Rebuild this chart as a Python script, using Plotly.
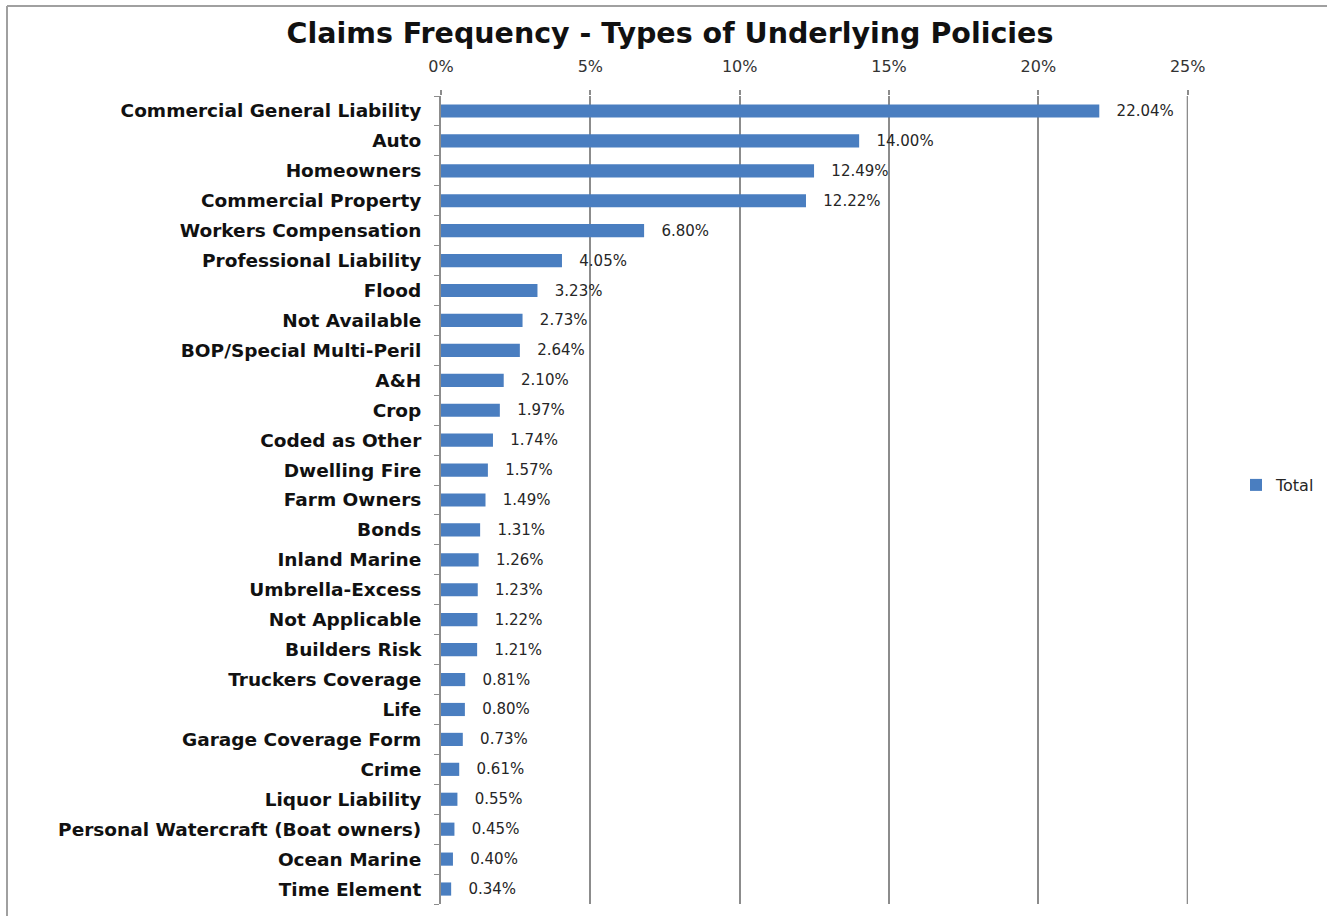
import plotly.graph_objects as go

categories = [
    "Commercial General Liability", "Auto", "Homeowners", "Commercial Property",
    "Workers Compensation", "Professional Liability", "Flood", "Not Available",
    "BOP/Special Multi-Peril", "A&H", "Crop", "Coded as Other", "Dwelling Fire",
    "Farm Owners", "Bonds", "Inland Marine", "Umbrella-Excess", "Not Applicable",
    "Builders Risk", "Truckers Coverage", "Life", "Garage Coverage Form", "Crime",
    "Liquor Liability", "Personal Watercraft (Boat owners)", "Ocean Marine",
    "Time Element",
]
values = [
    22.04, 14.00, 12.49, 12.22, 6.80, 4.05, 3.23, 2.73, 2.64, 2.10, 1.97, 1.74,
    1.57, 1.49, 1.31, 1.26, 1.23, 1.22, 1.21, 0.81, 0.80, 0.73, 0.61, 0.55,
    0.45, 0.40, 0.34,
]
x_ticks = [0, 5, 10, 15, 20, 25]
x_tick_labels = ["0%", "5%", "10%", "15%", "20%", "25%"]

BAR_BLUE = "#4A7EC0"
GRID_GRAY = "#8C8C8C"

fig = go.Figure(
    go.Bar(
        y=categories,
        x=values,
        orientation="h",
        name="Total",
        marker=dict(color=BAR_BLUE, line=dict(width=0)),
        width=0.44,
        text=[f"{v:.2f}%" for v in values],
        textposition="outside",
        constraintext="none",
        cliponaxis=False,
        textfont=dict(family="DejaVu Sans", size=15, color="#262626"),
        hoverinfo="skip",
    )
)

W, H = 1330, 916
L, R, T, B = 441, 142, 96, 12
plot_w = W - L - R
plot_h = H - T - B

def px_x(p):
    return (p - L) / plot_w

def px_y(p):
    return (H - B - p) / plot_h

# value labels sit a little past the bar ends
fig.update_traces(texttemplate="   %{x:.2f}%")

fig.update_layout(
    width=W,
    height=H,
    margin=dict(l=L, r=R, t=T, b=B, autoexpand=False),
    paper_bgcolor="white",
    plot_bgcolor="white",
    title=dict(
        text="<b>Claims Frequency - Types of Underlying Policies</b>",
        x=670 / W, xanchor="center", xref="container",
        y=1 - 33 / H, yanchor="middle", yref="container",
        font=dict(family="DejaVu Sans", size=28.5, color="#111111"),
    ),
    showlegend=True,
    legend=dict(
        x=px_x(1236), xanchor="left",
        y=px_y(485), yanchor="middle",
        font=dict(family="DejaVu Sans", size=16, color="#262626"),
        bgcolor="rgba(0,0,0,0)",
        itemwidth=30,
    ),
    xaxis=dict(
        side="top",
        range=[0, 25.01],
        tickvals=x_ticks,
        ticktext=x_tick_labels,
        showgrid=True,
        gridcolor=GRID_GRAY,
        gridwidth=2,
        zeroline=False,
        showline=False,
        ticks="outside",
        ticklen=5,
        tickcolor=GRID_GRAY,
        tickwidth=2,
        ticklabelstandoff=12,
        tickfont=dict(family="DejaVu Sans", size=16, color="#333333"),
        fixedrange=True,
    ),
    yaxis=dict(
        type="category",
        categoryorder="array",
        categoryarray=categories[::-1],
        autorange=False,
        range=[-0.5, len(categories) - 0.5],
        showline=True,
        linecolor=GRID_GRAY,
        linewidth=2,
        ticks="outside",
        tickson="boundaries",
        ticklen=5,
        tickcolor=GRID_GRAY,
        tickwidth=1,
        showgrid=False,
        tickprefix="<b>",
        ticksuffix="</b>",
        ticklabelstandoff=14,
        tickfont=dict(family="DejaVu Sans", size=18.5, color="#111111"),
        fixedrange=True,
    ),
    bargap=0.56,
    shapes=[
        # outer frame (top and left edges visible)
        dict(type="line", xref="paper", yref="paper",
             x0=px_x(7), x1=px_x(1327), y0=px_y(6), y1=px_y(6),
             line=dict(color="#A0A0A0", width=2)),
        dict(type="line", xref="paper", yref="paper",
             x0=px_x(7), x1=px_x(7), y0=px_y(6), y1=px_y(918),
             line=dict(color="#A0A0A0", width=2)),
        # gridline at the last tick (right edge of the plot area)
        dict(type="line", xref="x", yref="paper",
             x0=x_ticks[-1], x1=x_ticks[-1], y0=0, y1=1,
             layer="below", line=dict(color=GRID_GRAY, width=2)),
    ],
)

fig.write_html("out.html")
